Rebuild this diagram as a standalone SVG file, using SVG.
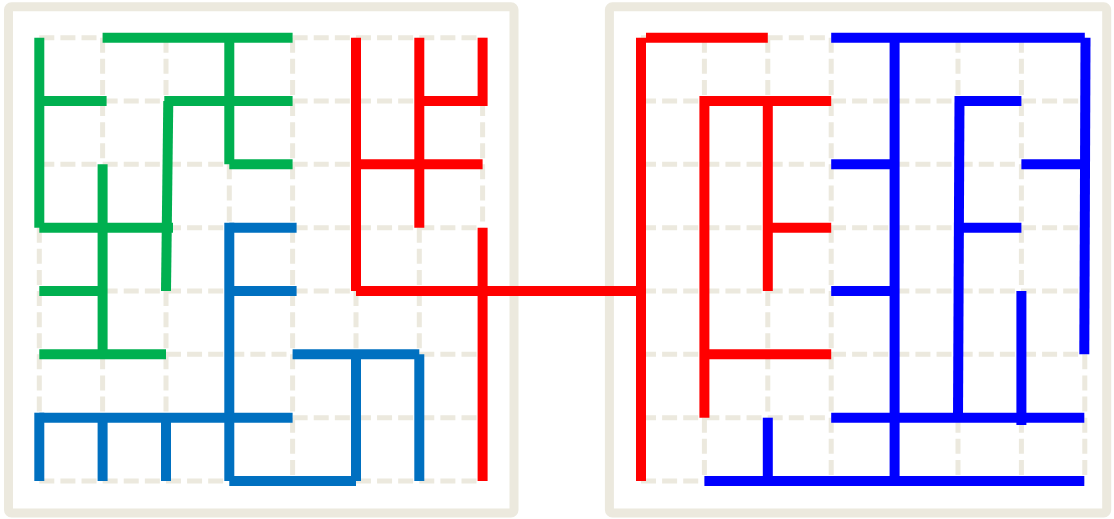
<svg xmlns="http://www.w3.org/2000/svg" width="1114" height="519" viewBox="0 0 1114 519">
<style>
.frame{fill:none;stroke:#ECE9DE;stroke-width:9}
.grid{stroke:#ECE9DE;stroke-width:5;stroke-dasharray:15 6.11;fill:none}
.g{stroke:#00B050;stroke-width:10;stroke-linecap:butt;fill:none}
.b{stroke:#0070C0;stroke-width:10;stroke-linecap:butt;fill:none}
.r{stroke:#FF0000;stroke-width:10;stroke-linecap:butt;fill:none}
.v{stroke:#0000FF;stroke-width:10;stroke-linecap:butt;fill:none}
</style>
<rect width="1114" height="519" fill="#FFFFFF"/>
<g id="frame-left"><rect class="frame" x="8.5" y="6.7" width="505.5" height="506.3" rx="3"/></g>
<g id="frame-right"><rect class="frame" x="609.4" y="6.7" width="497.3" height="506.3" rx="3"/></g>
<g id="grid-left" class="grid">
<path d="M39.3 37.7V481M102.6 37.7V481M166 37.7V481M229.3 37.7V481M292.6 37.7V481M356 37.7V481M419.3 37.7V481M482.6 37.7V481"/>
<path d="M39.3 37.7H482.6M39.3 101H482.6M39.3 164.3H482.6M39.3 227.7H482.6M39.3 291H482.6M39.3 354.3H482.6M39.3 417.7H482.6M39.3 481H482.6"/>
</g>
<g id="grid-right" class="grid">
<path d="M641 37.7V481M704.4 37.7V481M767.8 37.7V481M831.2 37.7V481M894.6 37.7V481M958 37.7V481M1021.4 37.7V481M1084.8 37.7V481"/>
<path d="M641 37.7H1084.8M641 101H1084.8M641 164.3H1084.8M641 227.7H1084.8M641 291H1084.8M641 354.3H1084.8M641 417.7H1084.8M641 481H1084.8"/>
</g>
<g id="connectors">
<g id="green-tree" class="g">
<path d="M39.3 37.7V227.7"/>
<path d="M102.6 37.7H292.6"/>
<path d="M39.3 101H106.6"/>
<path d="M229.3 37.7V164.3"/>
<path d="M164.3 101H292.6"/>
<path d="M229.3 164.3H292.6"/>
<path d="M168.3 101L166 291"/>
<path d="M39.3 227.7H173"/>
<path d="M102.6 164.3V354.3"/>
<path d="M39.3 291H102.6"/>
<path d="M39.3 354.3H166"/>
</g>
<g id="blue-tree-left" class="b">
<path d="M229.3 227.7H296.6"/>
<path d="M229.3 222.7V481"/>
<path d="M229.3 291H296.6"/>
<path d="M39.3 417.7H292.6"/>
<path d="M39.3 412.7V481"/>
<path d="M102.6 417.7V481"/>
<path d="M166 417.7V481"/>
<path d="M229.3 481H356"/>
<path d="M356 354.3V481"/>
<path d="M292.6 354.3H419.3"/>
<path d="M419.3 354.3V481"/>
</g>
<g id="red-tree" class="r">
<path d="M356 37.7V291"/>
<path d="M419.3 37.7V227.7"/>
<path d="M482.6 37.7V106"/>
<path d="M419.3 101H482.6"/>
<path d="M356 164.3H482.6"/>
<path d="M482.6 227.7V481"/>
<path d="M356 291H641"/>
<path d="M641 37.7V481"/>
<path d="M646 37.7H767.8"/>
<path d="M704.4 101H831.2"/>
<path d="M704.4 96V417.7"/>
<path d="M767.8 101V291"/>
<path d="M767.8 227.7H831.2"/>
<path d="M704.4 354.3H831.2"/>
</g>
<g id="blue-tree-right" class="v">
<path d="M831.2 37.7H1084.8"/>
<path d="M1085.5 37.7L1084.3 354.3"/>
<path d="M894.6 37.7V481"/>
<path d="M831.2 164.3H894.6"/>
<path d="M831.2 291H894.6"/>
<path d="M958 101H1021.4"/>
<path d="M959.5 96L958 417.7"/>
<path d="M958 227.7H1021.4"/>
<path d="M1021.4 164.3H1084.8"/>
<path d="M1021.4 291V425"/>
<path d="M831.2 417.7H1084.3"/>
<path d="M704.4 481H1084.3"/>
<path d="M767.8 417.7V481"/>
</g>
</g>
</svg>
